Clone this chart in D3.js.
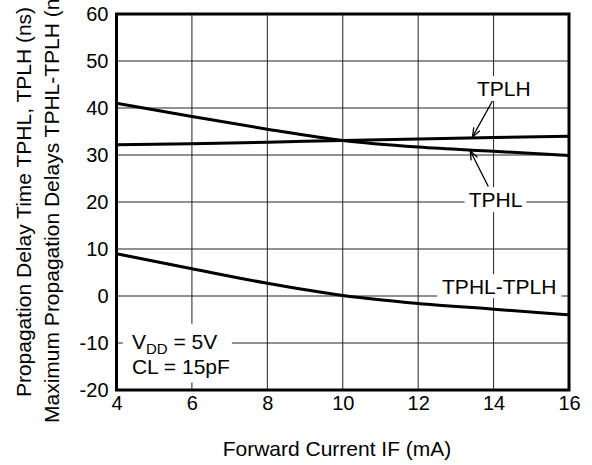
<!DOCTYPE html>
<html>
<head>
<meta charset="utf-8">
<script src="https://cdn.jsdelivr.net/npm/d3@7"></script>
<style>
  body { margin: 0; background: #fff; }
  text { font-family: "Liberation Sans", Arial, sans-serif; fill: #000; }
</style>
</head>
<body>
<div id="chart"></div>
<script>
// values
var currents = [4, 6, 8, 10, 12, 14, 16];
var tplh = [32.2, 32.4, 32.7, 33.1, 33.4, 33.7, 34.0];
var tphl = [41.0, 38.2, 35.5, 33.1, 31.7, 30.8, 29.9];
var tphlMinusTplh = [9.0, 5.8, 2.7, 0.1, -1.6, -2.8, -4.0];
var xTicks = [4, 6, 8, 10, 12, 14, 16];
var yTicks = [-20, -10, 0, 10, 20, 30, 40, 50, 60];

var svgWidth = 592;
var svgHeight = 465;
var margin = { top: 14, right: 23, bottom: 75, left: 116.5 };
var width = svgWidth - margin.left - margin.right;
var height = svgHeight - margin.top - margin.bottom;

var svg = d3.select("#chart")
  .append("svg")
  .attr("width", svgWidth)
  .attr("height", svgHeight);

var defs = svg.append("defs");
defs.append("marker")
  .attr("id", "arrow")
  .attr("viewBox", "-10 -5 12 10")
  .attr("refX", 0)
  .attr("refY", 0)
  .attr("markerWidth", 12)
  .attr("markerHeight", 10)
  .attr("markerUnits", "userSpaceOnUse")
  .attr("orient", "auto")
  .append("path")
  .attr("d", "M-9,-3.5L0,0L-9,3.5")
  .attr("fill", "none")
  .attr("stroke", "#000")
  .attr("stroke-width", 1.3);

var chartGroup = svg.append("g")
  .attr("transform", `translate(${margin.left}, ${margin.top})`);

var x = d3.scaleLinear().domain([4, 16]).range([0, width]);
var y = d3.scaleLinear().domain([-20, 60]).range([height, 0]);

// grid
chartGroup.append("g")
  .selectAll("line")
  .data(xTicks.slice(1, -1))
  .enter()
  .append("line")
  .attr("x1", d => x(d)).attr("x2", d => x(d))
  .attr("y1", 0).attr("y2", height)
  .attr("stroke", "#222").attr("stroke-width", 1);

chartGroup.append("g")
  .selectAll("line")
  .data(yTicks.slice(1, -1))
  .enter()
  .append("line")
  .attr("x1", 0).attr("x2", width)
  .attr("y1", d => y(d)).attr("y2", d => y(d))
  .attr("stroke", "#222").attr("stroke-width", 1);

// axes (labels only), plain hyphen for negatives like the datasheet
var leftAxis = d3.axisLeft(y).tickValues(yTicks).tickSize(0).tickPadding(8)
  .tickFormat(d => String(d));
var bottomAxis = d3.axisBottom(x).tickValues(xTicks).tickSize(0).tickPadding(6)
  .tickFormat(d => String(d));

var yAxis = chartGroup.append("g").call(leftAxis);
var xAxis = chartGroup.append("g")
  .attr("transform", `translate(0, ${height})`)
  .call(bottomAxis);
[yAxis, xAxis].forEach(function(a) {
  a.select(".domain").remove();
  a.selectAll("text")
    .attr("font-family", "Liberation Sans, Arial, sans-serif")
    .attr("font-size", 20)
    .attr("fill", "#000");
});

// label helper: text with white box that hides the grid behind it
function boxedLabel(txt, cx, baseline, padX, padTop, padBottom) {
  var g = chartGroup.append("g");
  var rect = g.append("rect").attr("fill", "#fff");
  var t = g.append("text")
    .attr("x", cx)
    .attr("y", baseline)
    .attr("text-anchor", "middle")
    .attr("font-size", 21)
    .text(txt);
  var bb = t.node().getBBox();
  rect.attr("x", bb.x - padX).attr("y", bb.y - padTop)
    .attr("width", bb.width + 2 * padX).attr("height", bb.height + padTop + padBottom);
  return g;
}

boxedLabel("TPLH", x(14.27), y(42.55), 4, 1, 1);
boxedLabel("TPHL", x(14.05), y(18.9), 4, 1, 1);
boxedLabel("TPHL-TPLH", x(14.15), y(0.4), 5, 1, 0);

// conditions box
var cond = chartGroup.append("g");
cond.append("rect")
  .attr("x", x(4.17)).attr("y", y(-5.9))
  .attr("width", x(7.06) - x(4.17)).attr("height", y(-18.4) - y(-5.9))
  .attr("fill", "#fff");
var vdd = cond.append("text")
  .attr("x", x(4.41)).attr("y", y(-11.2))
  .attr("font-size", 21);
vdd.append("tspan").text("V");
vdd.append("tspan").attr("font-size", 15).attr("dy", 5).text("DD");
vdd.append("tspan").attr("dy", -5).text(" = 5V");
cond.append("text")
  .attr("x", x(4.41)).attr("y", y(-16.6))
  .attr("font-size", 21)
  .text("CL = 15pF");

// curves
var line = d3.line()
  .x(d => x(d[0]))
  .y(d => y(d[1]))
  .curve(d3.curveMonotoneX);

[tplh, tphl, tphlMinusTplh].forEach(function(series) {
  chartGroup.append("path")
    .datum(currents.map((c, i) => [c, series[i]]))
    .attr("d", line)
    .attr("fill", "none")
    .attr("stroke", "#000")
    .attr("stroke-width", 3);
});

// arrows to the curves
var arrows = [
  { from: [13.97, 41.5], to: [13.44, 33.85] },
  { from: [13.86, 23.3], to: [13.38, 30.9] }
];
chartGroup.selectAll(".arrow")
  .data(arrows)
  .enter()
  .append("line")
  .attr("x1", d => x(d.from[0])).attr("y1", d => y(d.from[1]))
  .attr("x2", d => x(d.to[0])).attr("y2", d => y(d.to[1]))
  .attr("stroke", "#000")
  .attr("stroke-width", 1.3)
  .attr("marker-end", "url(#arrow)");

// frame
chartGroup.append("rect")
  .attr("width", width)
  .attr("height", height)
  .attr("fill", "none")
  .attr("stroke", "#000")
  .attr("stroke-width", 3);

// axis titles
svg.append("text")
  .attr("x", 337)
  .attr("y", 456)
  .attr("text-anchor", "middle")
  .attr("font-size", 21)
  .text("Forward Current IF (mA)");

svg.append("text")
  .attr("transform", "rotate(-90)")
  .attr("x", -202)
  .attr("y", 31)
  .attr("text-anchor", "middle")
  .attr("font-size", 21)
  .text("Propagation Delay Time TPHL, TPLH (ns)");

svg.append("text")
  .attr("transform", "rotate(-90)")
  .attr("x", -202)
  .attr("y", 59)
  .attr("text-anchor", "middle")
  .attr("font-size", 21)
  .text("Maximum Propagation Delays TPHL-TPLH (ns)");
</script>
</body>
</html>
